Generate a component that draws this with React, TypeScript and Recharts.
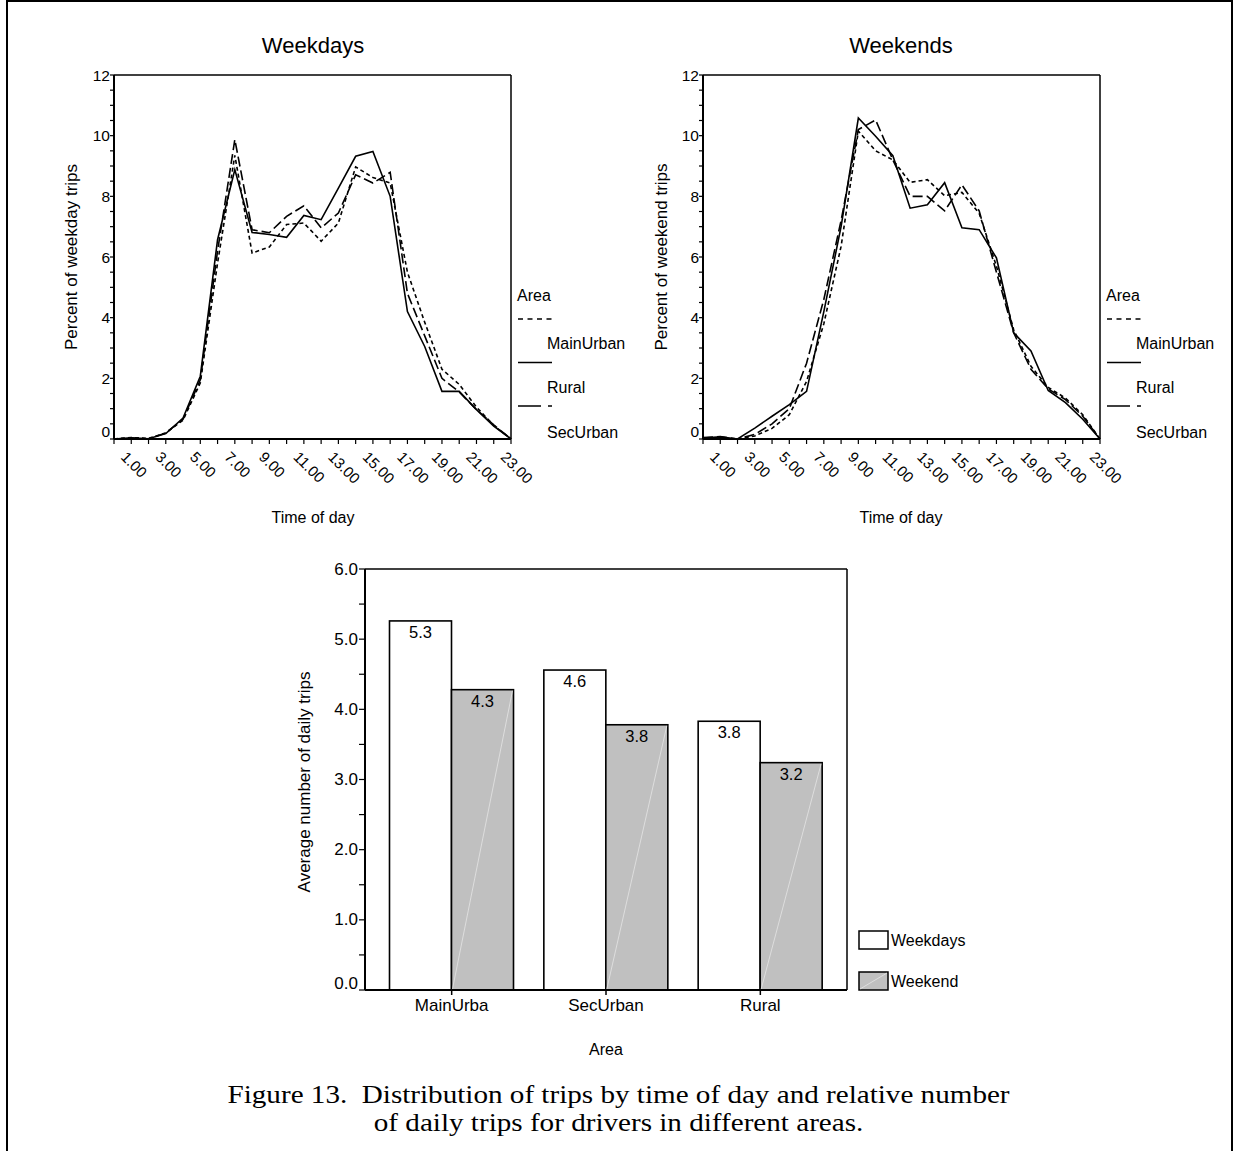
import React from 'react';
import { LineChart, Line, XAxis, YAxis, CartesianGrid, BarChart, Bar, LabelList } from 'recharts';

const SANS = '"Liberation Sans", Arial, sans-serif';
const SERIF = '"Liberation Serif", "Times New Roman", serif';

// ---------- data ----------
const hours = ['1.00', '2.00', '3.00', '4.00', '5.00', '6.00', '7.00', '8.00', '9.00', '10.00', '11.00', '12.00',
  '13.00', '14.00', '15.00', '16.00', '17.00', '18.00', '19.00', '20.00', '21.00', '22.00', '23.00', '24.00'];

const weekdayMainUrban = [0, 0.05, 0.02, 0.2, 0.62, 1.85, 5.8, 9.35, 6.13, 6.33, 7.07, 7.12, 6.52, 7.12, 8.97, 8.62, 8.44, 5.5, 3.85, 2.3, 1.8, 1.05, 0.45, 0];
const weekdayRural = [0, 0.04, 0.01, 0.18, 0.69, 2.07, 6.57, 8.88, 6.81, 6.74, 6.65, 7.37, 7.23, 8.27, 9.32, 9.48, 8.0, 4.2, 3.05, 1.57, 1.57, 0.97, 0.42, 0];
const weekdaySecUrban = [0, 0.03, 0, 0.2, 0.65, 1.95, 6.2, 9.87, 6.9, 6.8, 7.34, 7.69, 6.96, 7.45, 8.71, 8.44, 8.79, 4.8, 3.4, 2.0, 1.55, 0.97, 0.47, 0];

const weekendMainUrban = [0.02, 0.02, 0, 0.1, 0.35, 0.8, 1.9, 3.8, 6.35, 10.15, 9.5, 9.2, 8.46, 8.55, 8.02, 8.13, 7.44, 5.7, 3.6, 2.4, 1.7, 1.35, 0.8, 0];
const weekendRural = [0.03, 0.07, 0, 0.36, 0.75, 1.13, 1.57, 4.2, 7.0, 10.58, 9.98, 9.34, 7.61, 7.72, 8.45, 6.96, 6.9, 5.97, 3.5, 2.9, 1.6, 1.2, 0.65, 0];
const weekendSecUrban = [0.05, 0.08, 0, 0.15, 0.5, 1.0, 2.5, 4.6, 7.2, 10.2, 10.52, 9.2, 8.0, 8.0, 7.52, 8.38, 7.52, 5.5, 3.5, 2.3, 1.65, 1.3, 0.75, 0];

const areaNames = ['MainUrban', 'Rural', 'SecUrban'];
const pctTicks = [0, 0.5, 1, 1.5, 2, 2.5, 3, 3.5, 4, 4.5, 5, 5.5, 6, 6.5, 7, 7.5, 8, 8.5, 9, 9.5, 10, 10.5, 11, 11.5, 12];

const barAreas = ['MainUrba', 'SecUrban', 'Rural'];
const barWeekdays = [5.26, 4.56, 3.83];
const barWeekend = [4.28, 3.78, 3.24];
const tripTicks = [0, 0.5, 1, 1.5, 2, 2.5, 3, 3.5, 4, 4.5, 5, 5.5, 6];

// ---------- styles (not data) ----------
const dashFor: Record<string, string | undefined> = { MainUrban: '4 3', Rural: undefined, SecUrban: '10 4' };
const legendDashFor: Record<string, string | undefined> = { MainUrban: '5 4.5', Rural: undefined, SecUrban: '23 7' };

const weekdayRows = hours.map((h, i) => ({ hour: h, MainUrban: weekdayMainUrban[i], Rural: weekdayRural[i], SecUrban: weekdaySecUrban[i] }));
const weekendRows = hours.map((h, i) => ({ hour: h, MainUrban: weekendMainUrban[i], Rural: weekendRural[i], SecUrban: weekendSecUrban[i] }));
const barRows = barAreas.map((a, i) => ({ area: a, Weekdays: barWeekdays[i], Weekend: barWeekend[i] }));

const PctTick = (props: any) => {
  const { x, y, payload } = props;
  const v = payload.value;
  if (v % 2 !== 0) return <g />;
  return (
    <text x={x} y={y + (v === 0 ? -8 : 0)} textAnchor="end" dominantBaseline="central" fontSize={15.5} fontFamily={SANS} fill="#000">
      {String(v)}
    </text>
  );
};

const HourTick = (props: any) => {
  const { x, y, payload, index } = props;
  if (index % 2 !== 0) return <g />;
  const tx = x + 6;
  const ty = y + 12;
  return (
    <text x={tx} y={ty} transform={`rotate(45 ${tx} ${ty})`} textAnchor="start" fontSize={15} fontFamily={SANS} fill="#000">
      {payload.value}
    </text>
  );
};

const TripTick = (props: any) => {
  const { x, y, payload } = props;
  const v = payload.value;
  if (v % 1 !== 0) return <g />;
  return (
    <text x={x} y={y + (v === 0 ? -7 : 0)} textAnchor="end" dominantBaseline="central" fontSize={17} fontFamily={SANS} fill="#000">
      {v.toFixed(1)}
    </text>
  );
};

const AreaTick = (props: any) => {
  const { x, y, payload } = props;
  return (
    <text x={x} y={y + 14} textAnchor="middle" fontSize={17} fontFamily={SANS} fill="#000">
      {payload.value}
    </text>
  );
};

const frameH = ({ offset }: any) => [offset.top];
const frameV = ({ offset }: any) => [offset.left + offset.width];

const WeekdayBarShape = (props: any) => {
  const { x, y, width, height } = props;
  return <rect x={x} y={y} width={width} height={height} fill="#fff" stroke="#000" strokeWidth={1.6} />;
};
const WeekendBarShape = (props: any) => {
  const { x, y, width, height } = props;
  return (
    <g>
      <rect x={x} y={y} width={width} height={height} fill="#c0c0c0" stroke="#000" strokeWidth={1.6} />
      <line x1={x + 1} y1={y + height - 1} x2={x + width - 1} y2={y + 1} stroke="#e4e4e4" strokeWidth={0.8} />
    </g>
  );
};

const ValueLabel = (props: any) => {
  const { x, y, width, value } = props;
  return (
    <text x={x + width / 2} y={y + 17} textAnchor="middle" fontSize={16.5} fontFamily={SANS} fill="#000">
      {Number(value).toFixed(1)}
    </text>
  );
};

function TimeChart({ rows }: { rows: any[] }) {
  return (
    <LineChart width={640} height={540} data={rows} margin={{ top: 75, right: 129, bottom: 21, left: 64 }}>
      <CartesianGrid stroke="#000" strokeWidth={1.5} horizontalCoordinatesGenerator={frameH} verticalCoordinatesGenerator={frameV} />
      <XAxis
        dataKey="hour"
        interval={0}
        height={80}
        tickSize={5}
        tickMargin={2}
        tick={<HourTick />}
        axisLine={{ stroke: '#000', strokeWidth: 2 }}
        tickLine={{ stroke: '#000', strokeWidth: 1.2 }}
      />
      <YAxis
        type="number"
        domain={[0, 12]}
        ticks={pctTicks}
        interval={0}
        width={50}
        tickSize={4}
        tickMargin={0}
        tick={<PctTick />}
        axisLine={{ stroke: '#000', strokeWidth: 2 }}
        tickLine={{ stroke: '#000', strokeWidth: 1.2 }}
      />
      {areaNames.map((n) => (
        <Line
          key={n}
          type="linear"
          dataKey={n}
          stroke="#000"
          strokeWidth={1.6}
          strokeDasharray={dashFor[n]}
          dot={false}
          activeDot={false}
          isAnimationActive={false}
        />
      ))}
    </LineChart>
  );
}

function AreaLegend({ left, top }: { left: number; top: number }) {
  return (
    <svg style={{ position: 'absolute', left, top }} width={120} height={165}>
      <text x={5} y={15} dominantBaseline="central" fontSize={16} fontFamily={SANS} fill="#000">Area</text>
      {areaNames.map((n, i) => (
        <g key={n}>
          <line x1={6} x2={40} y1={39 + i * 43.5} y2={39 + i * 43.5} stroke="#000" strokeWidth={1.6} strokeDasharray={legendDashFor[n]} />
          <text x={35} y={63 + i * 44.5} dominantBaseline="central" fontSize={16} fontFamily={SANS} fill="#000">{n}</text>
        </g>
      ))}
    </svg>
  );
}

const absText = (extra: React.CSSProperties): React.CSSProperties => ({
  position: 'absolute',
  fontFamily: SANS,
  color: '#000',
  whiteSpace: 'pre',
  ...extra,
});

export default function App() {
  return (
    <div style={{ position: 'absolute', left: 0, top: 0, width: 1237, height: 1151, background: '#fff', overflow: 'hidden' }}>
      <div style={{ position: 'absolute', left: 6, top: 0, width: 1223, height: 1200, border: '2px solid #000', borderBottom: 'none' }} />

      {/* titles */}
      <div style={absText({ left: 213, top: 34, width: 200, textAlign: 'center', fontSize: 22, lineHeight: '24px' })}>Weekdays</div>
      <div style={absText({ left: 801, top: 34, width: 200, textAlign: 'center', fontSize: 22, lineHeight: '24px' })}>Weekends</div>

      {/* weekday chart */}
      <div style={{ position: 'absolute', left: 0, top: 0 }}>
        <TimeChart rows={weekdayRows} />
      </div>
      <div style={absText({ left: 72 - 150, top: 257 - 10, width: 300, textAlign: 'center', fontSize: 17, lineHeight: '20px', transform: 'rotate(-90deg)' })}>Percent of weekday trips</div>
      <div style={absText({ left: 213, top: 508, width: 200, textAlign: 'center', fontSize: 16, lineHeight: '20px' })}>Time of day</div>
      <AreaLegend left={512} top={280} />

      {/* weekend chart */}
      <div style={{ position: 'absolute', left: 589, top: 0 }}>
        <TimeChart rows={weekendRows} />
      </div>
      <div style={absText({ left: 662 - 150, top: 257 - 10, width: 300, textAlign: 'center', fontSize: 17, lineHeight: '20px', transform: 'rotate(-90deg)' })}>Percent of weekend trips</div>
      <div style={absText({ left: 801, top: 508, width: 200, textAlign: 'center', fontSize: 16, lineHeight: '20px' })}>Time of day</div>
      <AreaLegend left={1101} top={280} />

      {/* bar chart */}
      <div style={{ position: 'absolute', left: 250, top: 540 }}>
        <BarChart width={700} height={540} data={barRows} margin={{ top: 29, right: 103, bottom: 10, left: 55 }} barCategoryGap={15} barGap={0}>
          <CartesianGrid stroke="#000" strokeWidth={1.5} horizontalCoordinatesGenerator={frameH} verticalCoordinatesGenerator={frameV} />
          <XAxis
            dataKey="area"
            padding={{ left: 9.5, right: 9.5 }}
            height={80}
            tickSize={5}
            tickMargin={2}
            tick={<AreaTick />}
            axisLine={{ stroke: '#000', strokeWidth: 2 }}
            tickLine={{ stroke: '#000', strokeWidth: 1.5 }}
          />
          <YAxis
            type="number"
            domain={[0, 6]}
            ticks={tripTicks}
            interval={0}
            width={60}
            tickSize={6}
            tickMargin={1}
            tick={<TripTick />}
            axisLine={{ stroke: '#000', strokeWidth: 2 }}
            tickLine={{ stroke: '#000', strokeWidth: 1.2 }}
          />
          <Bar dataKey="Weekdays" fill="#fff" shape={<WeekdayBarShape />} isAnimationActive={false}>
            <LabelList dataKey="Weekdays" content={<ValueLabel />} />
          </Bar>
          <Bar dataKey="Weekend" fill="#c0c0c0" shape={<WeekendBarShape />} isAnimationActive={false}>
            <LabelList dataKey="Weekend" content={<ValueLabel />} />
          </Bar>
        </BarChart>
      </div>
      <div style={absText({ left: 305 - 200, top: 782 - 10, width: 400, textAlign: 'center', fontSize: 17, lineHeight: '20px', transform: 'rotate(-90deg)' })}>Average number of daily trips</div>
      <div style={absText({ left: 506, top: 1040, width: 200, textAlign: 'center', fontSize: 16, lineHeight: '20px' })}>Area</div>

      {/* bar legend */}
      <svg style={{ position: 'absolute', left: 855, top: 925 }} width={120} height={75}>
        <rect x={4} y={6} width={29} height={18} fill="#fff" stroke="#000" strokeWidth={1.5} />
        <text x={36} y={15} dominantBaseline="central" fontSize={16} fontFamily={SANS} fill="#000">Weekdays</text>
        <rect x={4} y={47} width={29} height={18} fill="#c0c0c0" stroke="#000" strokeWidth={1.5} />
        <line x1={5} y1={64} x2={32} y2={48} stroke="#e4e4e4" strokeWidth={0.8} />
        <text x={36} y={56} dominantBaseline="central" fontSize={16} fontFamily={SANS} fill="#000">Weekend</text>
      </svg>

      {/* caption */}
      <div
        style={{
          position: 'absolute',
          left: 0,
          top: 1081,
          width: 1237,
          textAlign: 'center',
          fontFamily: SERIF,
          fontSize: 26,
          lineHeight: '28px',
          color: '#000',
          whiteSpace: 'pre',
          transform: 'scaleX(1.12)',
          transformOrigin: '618px 0',
        }}
      >
        {'Figure 13.  Distribution of trips by time of day and relative number\nof daily trips for drivers in different areas.'}
      </div>
    </div>
  );
}
